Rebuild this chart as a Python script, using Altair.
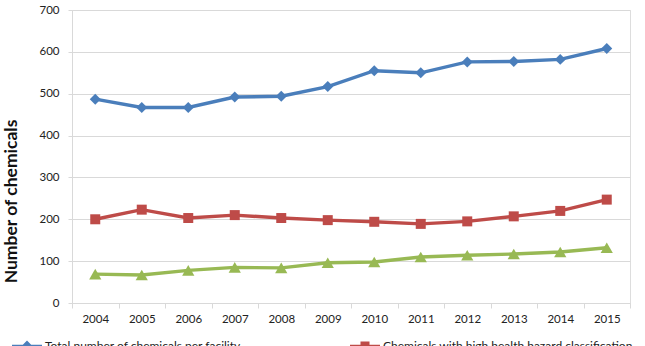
import altair as alt
import pandas as pd

# Years on the category axis
years = [str(y) for y in range(2004, 2016)]

# Average number of chemicals per facility, by year
total_chemicals = [487, 467, 467, 492, 494, 517, 555, 550, 576, 577, 582, 608]
high_health_hazard = [200, 223, 203, 210, 203, 198, 194, 189, 195, 207, 220, 247]
high_env_hazard = [69, 67, 78, 85, 84, 96, 98, 110, 114, 117, 122, 132]

series_names = [
    "Total number of chemicals per facility",
    "Chemicals with high health hazard classification",
    "Chemicals with high environmental hazard classification",
]
series_values = [total_chemicals, high_health_hazard, high_env_hazard]
series_colors = ["#4A7EBB", "#BE4B48", "#98B954"]
marker_shapes = ["diamond", "square", "triangle-up"]
marker_sizes = [120, 100, 150]

# Legend symbols: a short line segment with the series marker on top
legend_paths = [
    "M-1,-0.09H1V0.09H-1Z M0,-0.36L0.36,0L0,0.36L-0.36,0Z",
    "M-1,-0.09H1V0.09H-1Z M-0.3,-0.3H0.3V0.3H-0.3Z",
    "M-1,-0.09H1V0.09H-1Z M0,-0.36L0.38,0.3H-0.38Z",
]

rows = []
for name, values in zip(series_names, series_values):
    for year, v in zip(years, values):
        rows.append({"year": year, "value": v, "series": name})
df = pd.DataFrame(rows)

FONT = "Lato"
GRID = "#D9D9D9"
TEXT = "#222222"

x_enc = alt.X(
    "year:O",
    bandPosition=0.5,
    sort=years,
    scale=alt.Scale(type="band", domain=years, paddingInner=0, paddingOuter=0),
    axis=alt.Axis(
        title=None,
        labelAngle=0,
        tickBand="extent",
        tickSize=5,
        tickColor=GRID,
        domainColor=GRID,
        labelPadding=5,
        labelFont=FONT,
        labelFontSize=11.5,
        labelColor=TEXT,
        grid=False,
    ),
)
y_enc = alt.Y(
    "value:Q",
    scale=alt.Scale(domain=[0, 700], nice=False),
    axis=alt.Axis(
        title="Number of chemicals",
        values=list(range(0, 701, 100)),
        tickSize=4,
        tickColor=GRID,
        domainColor=GRID,
        gridColor=GRID,
        grid=True,
        labelPadding=9,
        labelFont=FONT,
        labelFontSize=11.5,
        labelColor=TEXT,
        titleFont=FONT,
        titleFontSize=17.5,
        titleFontWeight="bold",
        titleColor="#111111",
        titleAngle=270,
        titleAlign="center",
        titleBaseline="alphabetic",
        titleX=-56,
        titleY=191,
    ),
)

# One line + marker pair per series, each in its own colour
layers = []
for name, color, shape, size in zip(series_names, series_colors, marker_shapes, marker_sizes):
    sub = alt.Chart(df).transform_filter(alt.datum.series == name)
    layers.append(
        sub.mark_line(strokeWidth=3.4, color=color).encode(x=x_enc, y=y_enc)
    )
    layers.append(
        sub.mark_point(filled=True, opacity=1, shape=shape, size=size, color=color)
        .encode(x=x_enc, y=y_enc)
    )

legend_props = dict(
    title=None,
    orient="none",
    legendX=-60,
    legendY=321,
    direction="horizontal",
    columns=2,
    gridAlign="none",
    columnPadding=12,
    symbolSize=900,
    symbolStrokeWidth=0,
    labelFont=FONT,
    labelFontSize=12,
    labelColor=TEXT,
    labelLimit=400,
    labelOffset=3,
    padding=0,
)

# Legend-only layer: no rows survive the filter, the scales carry the entries
legend_layer = (
    alt.Chart(df)
    .transform_filter("false")
    .mark_point(filled=True, opacity=1)
    .encode(
        color=alt.Color(
            "series:N",
            scale=alt.Scale(domain=series_names, range=series_colors),
            legend=alt.Legend(**legend_props),
        ),
        shape=alt.Shape(
            "series:N",
            scale=alt.Scale(domain=series_names, range=legend_paths),
            legend=alt.Legend(**legend_props),
        ),
    )
)

chart = (
    alt.layer(*layers, legend_layer)
    .properties(
        width=558,
        height=293,
        padding={"left": 72, "top": 10, "right": 15, "bottom": 43},
        autosize=alt.AutoSizeParams(type="none"),
    )
    .configure_view(strokeWidth=0)
    .configure(background="white", font=FONT)
)

chart.save("out.html", embed_options={"renderer": "svg", "actions": False})
